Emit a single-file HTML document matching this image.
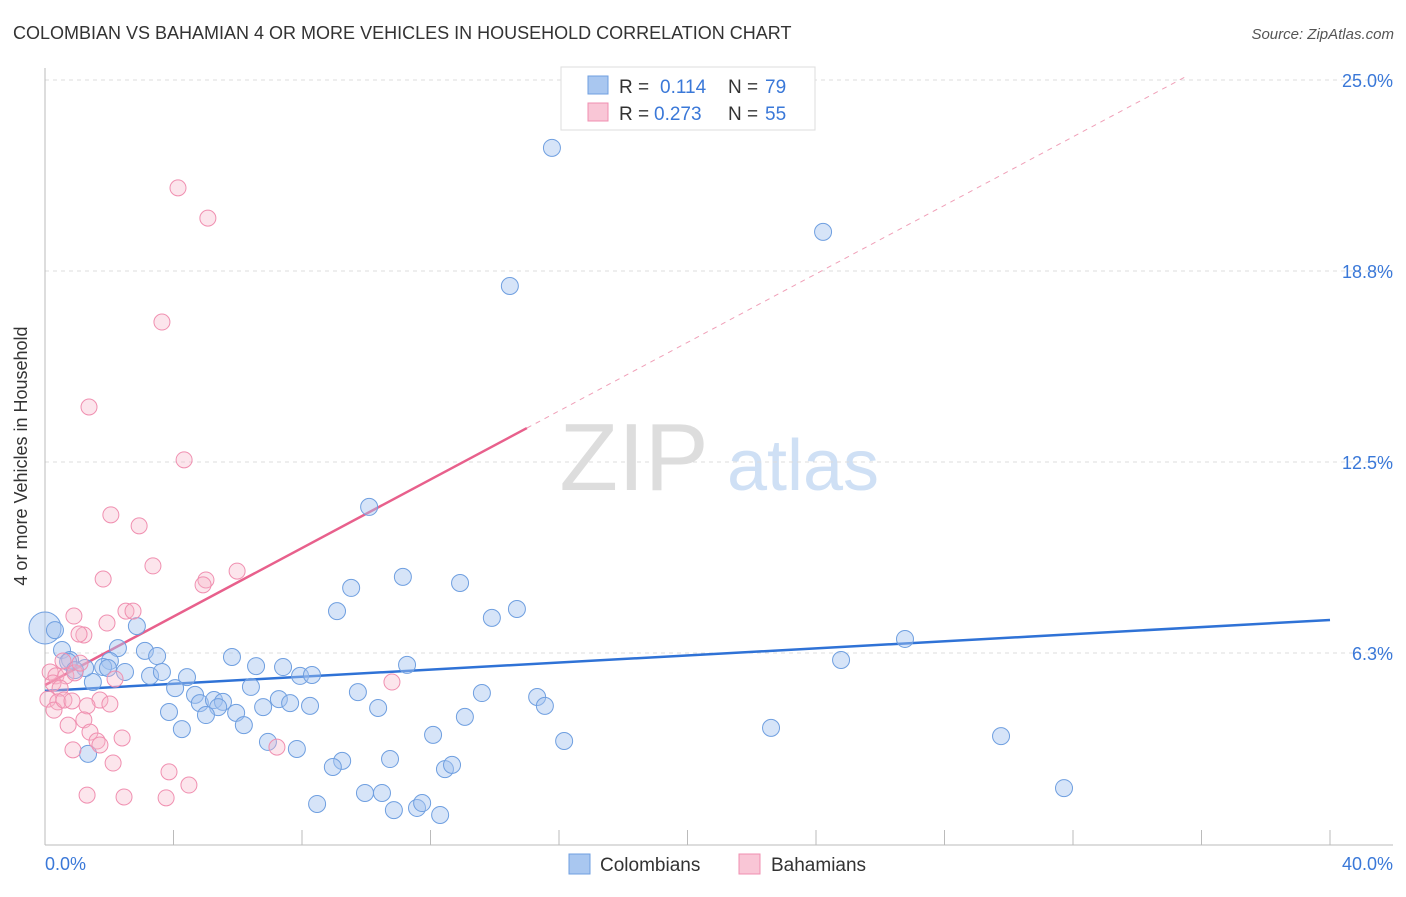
<!DOCTYPE html>
<html><head><meta charset="utf-8"><style>
body{margin:0;background:#fff;font-family:"Liberation Sans",sans-serif;}
svg text{font-family:"Liberation Sans",sans-serif;}
</style></head><body>
<svg id="chart" width="1406" height="892" viewBox="0 0 1406 892">
<text x="13" y="39" font-size="18" fill="#333">COLOMBIAN VS BAHAMIAN 4 OR MORE VEHICLES IN HOUSEHOLD CORRELATION CHART</text>
<text x="1394" y="39" font-size="15" fill="#555" text-anchor="end" font-style="italic">Source: ZipAtlas.com</text>
<g>
<text x="634" y="490" font-size="96" fill="#ddd" text-anchor="middle" font-family="Liberation Serif, serif">ZIP</text>
<text x="803" y="490" font-size="72" fill="#cfe0f5" text-anchor="middle">atlas</text>
</g>
<g id="grid"></g>
<g id="axes"></g>
<g id="lines"></g>
<g id="points"></g>
<text x="27" y="456" font-size="18" fill="#333" text-anchor="middle" transform="rotate(-90 27 456)">4 or more Vehicles in Household</text>
<g>
<rect x="561" y="67" width="254" height="63" fill="#fff" stroke="#ddd"/>
<rect x="588" y="76" width="20" height="18" fill="#a9c7f0" stroke="#6f9fe0"/>
<text x="619" y="93" font-size="19" fill="#333">R =</text><text x="660" y="93" font-size="19" fill="#3a78d8">0.114</text>
<text x="728" y="93" font-size="19" fill="#333">N =</text><text x="765" y="93" font-size="19" fill="#3a78d8">79</text>
<rect x="588" y="103" width="20" height="18" fill="#f9c6d6" stroke="#f08fb0"/>
<text x="619" y="120" font-size="19" fill="#333">R =</text><text x="654" y="120" font-size="19" fill="#3a78d8">0.273</text>
<text x="728" y="120" font-size="19" fill="#333">N =</text><text x="765" y="120" font-size="19" fill="#3a78d8">55</text>
</g>
<g>
<rect x="569" y="854" width="21" height="20" fill="#a9c7f0" stroke="#6f9fe0"/>
<text x="600" y="871" font-size="19" fill="#333">Colombians</text>
<rect x="739" y="854" width="21" height="20" fill="#f9c6d6" stroke="#f08fb0"/>
<text x="771" y="871" font-size="19" fill="#333">Bahamians</text>
</g>
</svg>
<script>
const blueX=[15.78,24.22,14.47,10.09,11.14,12.92,9.53,14.69,9.09,13.91,26.77,24.78,0.0,0.31,0.53,0.78,2.86,2.27,3.11,3.49,2.02,1.81,2.49,3.27,3.64,4.42,5.82,6.57,7.41,7.94,8.31,11.27,4.05,4.67,4.82,5.26,5.54,5.39,5.01,6.41,6.79,7.28,7.63,8.25,9.74,10.37,13.60,15.32,15.56,13.07,3.86,4.26,5.95,6.19,6.94,7.84,12.08,16.16,22.60,29.76,9.25,8.96,10.74,12.45,12.67,31.72,8.47,9.96,10.49,10.86,11.58,11.74,12.30,1.34,1.49,1.25,1.96,0.72,0.93];
const blueY=[22.78,20.03,18.26,11.03,8.74,8.54,8.38,7.69,7.62,7.40,6.71,6.02,7.07,7.0,6.35,6.02,7.13,6.41,6.32,6.15,5.99,5.79,5.63,5.50,5.63,5.46,6.12,5.82,5.79,5.50,5.53,5.86,5.10,4.88,4.61,4.71,4.65,4.48,4.22,5.14,4.48,4.74,4.61,4.52,4.97,4.45,4.94,4.81,4.52,4.16,4.32,3.76,4.29,3.89,3.34,3.11,3.57,3.37,3.80,3.53,2.72,2.52,2.78,2.45,2.59,1.83,1.31,1.67,1.67,1.11,1.18,1.34,0.95,2.95,5.30,5.76,5.76,5.96,5.69];
const pinkX=[4.14,5.07,3.64,1.37,4.33,2.05,2.93,3.36,5.98,5.01,1.81,4.92,0.90,2.52,2.74,1.93,1.21,1.06,0.16,0.34,0.65,0.93,0.25,0.47,0.09,0.40,0.28,0.59,0.84,10.80,2.18,1.71,2.02,1.31,1.21,0.72,1.40,2.40,1.62,0.87,1.71,2.12,3.86,7.22,4.48,1.31,2.46,3.77,1.09,0.56];
const pinkY=[21.47,20.48,17.08,14.30,12.57,10.77,10.41,9.10,8.93,8.64,8.67,8.48,7.46,7.62,7.62,7.23,6.84,6.87,5.63,5.50,5.50,5.60,5.27,5.10,4.74,4.65,4.38,4.71,4.68,5.30,5.40,4.71,4.58,4.52,4.06,3.89,3.66,3.47,3.37,3.08,3.24,2.65,2.36,3.17,1.93,1.60,1.54,1.51,5.92,5.99];
const yTicks=[6.25,12.5,18.75,25];
const yTickLabels=["6.3%","12.5%","18.8%","25.0%"];
const blueTrend=[5.01,7.33];
const pinkTrend=[5.20,13.61,15.0];
const NS="http://www.w3.org/2000/svg";
const sx=v=>45+v*32.125, sy=v=>844-v*30.56;
function mk(p,t,a){const e=document.createElementNS(NS,t);for(const k in a)e.setAttribute(k,a[k]);p.appendChild(e);return e;}
const grid=document.getElementById('grid'),axes=document.getElementById('axes'),lines=document.getElementById('lines'),pts=document.getElementById('points');
yTicks.forEach((t,i)=>{
 const g=mk(grid,'line',{x1:45,x2:1393,y1:sy(t),y2:sy(t),stroke:'#ddd','stroke-dasharray':'4,4'});
 
 
 const tx=mk(axes,'text',{x:1393,y:sy(t)+7,'font-size':18,fill:'#3a78d8','text-anchor':'end'});
 tx.textContent=yTickLabels[i];
 
 
});
const la=mk(axes,'line',{x1:45,x2:45,y1:68,y2:845,stroke:'#bbb'});


const ba=mk(axes,'line',{x1:45,x2:1393,y1:845,y2:845,stroke:'#bbb'});


for(let v=4;v<=40;v+=4){
 const tk=mk(axes,'line',{x1:sx(v),x2:sx(v),y1:830,y2:845,stroke:'#bbb'});
 
 
}
const xl0=mk(axes,'text',{x:45,y:870,'font-size':18,fill:'#3a78d8'});xl0.textContent='0.0%';


const xl1=mk(axes,'text',{x:1393,y:870,'font-size':18,fill:'#3a78d8','text-anchor':'end'});xl1.textContent='40.0%';


blueX.forEach((x,i)=>{
 const c=mk(pts,'circle',{cx:sx(x),cy:sy(blueY[i]),r:(i===12?16:8.5),fill:'rgba(164,196,240,0.45)',stroke:'#6f9fe0','stroke-width':1});
 
 
});
pinkX.forEach((x,i)=>{
 const c=mk(pts,'circle',{cx:sx(x),cy:sy(pinkY[i]),r:8,fill:'rgba(247,180,200,0.35)',stroke:'#f08fb0','stroke-width':1});
 
 
});
const bl=mk(lines,'line',{x1:sx(0),y1:sy(blueTrend[0]),x2:sx(40),y2:sy(blueTrend[1]),stroke:'#2f72d6','stroke-width':2.5});


const slope=(pinkTrend[1]-pinkTrend[0])/pinkTrend[2];
const pl=mk(lines,'line',{x1:sx(0),y1:sy(pinkTrend[0]),x2:sx(pinkTrend[2]),y2:sy(pinkTrend[1]),stroke:'#e8608c','stroke-width':2.5});


const xe=(25.1-pinkTrend[0])/slope;
const pd=mk(lines,'line',{x1:sx(pinkTrend[2]),y1:sy(pinkTrend[1]),x2:sx(xe),y2:sy(25.1),stroke:'#f0a0b8','stroke-width':1,'stroke-dasharray':'5,5'});


</script>
</body></html>
